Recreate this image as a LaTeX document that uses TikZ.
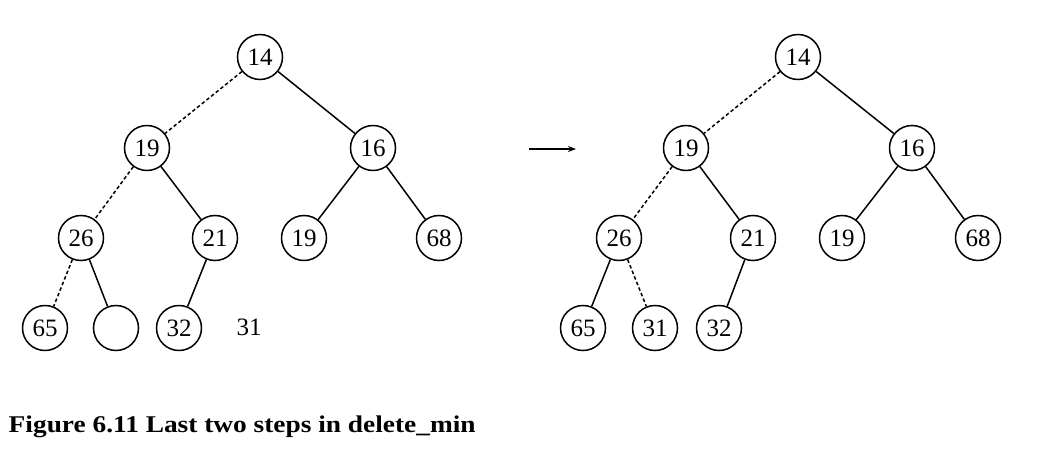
\documentclass[tikz,border=0pt]{standalone}
\usepackage{fontspec}
\setmainfont{Liberation Serif}
\newfontfamily\capfont[FakeStretch=1.14]{Liberation Serif}
\usetikzlibrary{arrows.meta}
\begin{document}
\begin{tikzpicture}[x=1pt, y=-1pt, line width=1.5pt,
	heap/.style={circle, minimum size=45pt, inner sep=0pt, draw=black, font=\fontsize{25}{28}\selectfont},
	moved/.style={dash pattern=on 3.5pt off 2.5pt}]
	\useasboundingbox (0, 0) rectangle (1038, 460);

	% before
	\node[heap] (l14) at (260, 57) {14};
	\node[heap] (l19) at (147, 148) {19};
	\node[heap] (l16) at (373, 148) {16};
	\node[heap] (l26) at (81, 238) {26};
	\node[heap] (l21) at (215, 238) {21};
	\node[heap] (l19b) at (304, 238) {19};
	\node[heap] (l68) at (439, 238) {68};
	\node[heap] (l65) at (45, 328) {65};
	\node[heap] (lhole) at (116, 328) {};
	\node[heap] (l32) at (179, 328) {32};
	\node[font=\fontsize{25}{28}\selectfont] (l31) at (249, 327) {31};

	\draw[moved] (l14) -- (l19);
	\draw (l14) -- (l16);
	\draw[moved] (l19) -- (l26);
	\draw (l19) -- (l21);
	\draw (l16) -- (l19b);
	\draw (l16) -- (l68);
	\draw[moved] (l26) -- (l65);
	\draw (l26) -- (lhole);
	\draw (l21) -- (l32);

	\coordinate (from) at (529, 149);
	\coordinate (to) at (576, 149);
	\draw[-{Stealth[length=8pt, width=6pt]}] (from) -- (to);

	% after
	\node[heap] (r14) at (798, 57) {14};
	\node[heap] (r19) at (686, 148) {19};
	\node[heap] (r16) at (912, 148) {16};
	\node[heap] (r26) at (619, 238) {26};
	\node[heap] (r21) at (753, 238) {21};
	\node[heap] (r19b) at (842, 238) {19};
	\node[heap] (r68) at (978, 238) {68};
	\node[heap] (r65) at (583, 328) {65};
	\node[heap] (r31) at (655, 328) {31};
	\node[heap] (r32) at (719, 328) {32};

	\draw[moved] (r14) -- (r19);
	\draw (r14) -- (r16);
	\draw[moved] (r19) -- (r26);
	\draw (r19) -- (r21);
	\draw (r16) -- (r19b);
	\draw (r16) -- (r68);
	\draw (r26) -- (r65);
	\draw[moved] (r26) -- (r31);
	\draw (r21) -- (r32);

	\node[anchor=base west, font=\capfont\fontsize{24}{27}\selectfont\bfseries, inner sep=0pt] (caption) at (8, 432) {Figure 6.11 Last two steps in delete\_min};
\end{tikzpicture}
\end{document}
